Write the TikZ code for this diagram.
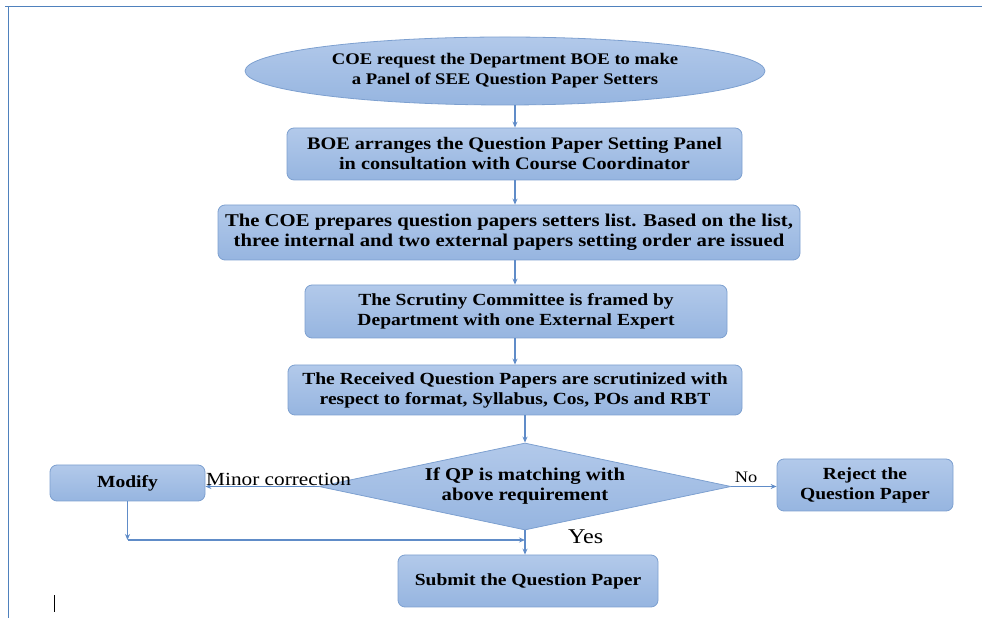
\documentclass[tikz,border=0pt]{standalone}
\usepackage{fontspec}
\setmainfont{Liberation Serif}[FakeStretch=1.15]
\usetikzlibrary{shapes.geometric,arrows.meta}
\definecolor{boxtop}{RGB}{178,201,234}
\definecolor{boxbottom}{RGB}{150,181,224}
\definecolor{boxedge}{RGB}{125,160,208}
\definecolor{linkblue}{RGB}{96,140,200}
\definecolor{frameblue}{RGB}{79,129,189}
\tikzset{
  x=1pt,y=1pt,
  every node/.style={font=\fontsize{17}{20}\selectfont\bfseries, align=center, inner sep=0pt},
  textsize/.style={font=\fontsize{#1}{20}\selectfont\bfseries},
  stepbox/.style={draw=boxedge, line width=0.8pt, top color=boxtop, bottom color=boxbottom, rounded corners=7pt},
  startshape/.style={ellipse, draw=boxedge, line width=0.8pt, top color=boxtop, bottom color=boxbottom},
  decision/.style={diamond, aspect=4.7, draw=boxedge, line width=0.8pt, top color=boxtop, bottom color=boxbottom},
  link/.style={draw=linkblue, line width=1.1pt, -{Stealth[length=6pt,width=5pt]}},
  lbl/.style={font=\fontsize{18.5}{20}\selectfont\mdseries},
}
\begin{document}
\begin{tikzpicture}
\useasboundingbox (0,0) rectangle (982,618);
% page frame
\draw[frameblue, line width=1pt] (5,611) -- (982,611);
\draw[frameblue, line width=1pt] (8,611) -- (8,0);

% flow nodes
\node[startshape, textsize=16.2, minimum width=520, minimum height=68] (start) at (505,547)
  {COE request the Department BOE to make\\a Panel of SEE Question Paper Setters};
\node[stepbox, textsize=17.6, minimum width=455, minimum height=52] (panel) at (514.5,464)
  {BOE arranges the Question Paper Setting Panel\\in consultation with Course Coordinator};
\node[stepbox, textsize=18, minimum width=582, minimum height=55] (list) at (509,385.5)
  {The COE prepares question papers setters list. Based on the list,\\three internal and two external papers setting order are issued};
\node[stepbox, minimum width=422, minimum height=53] (scrutiny) at (516,306.5)
  {The Scrutiny Committee is framed by\\Department with one External Expert};
\node[stepbox, minimum width=454, minimum height=50] (received) at (515,228)
  {The Received Question Papers are scrutinized with\\respect to format, Syllabus, Cos, POs and RBT};
\node[decision, textsize=18, minimum width=412, minimum height=87] (check) at (525,131.5)
  {If QP is matching with\\above requirement};
\node[stepbox, minimum width=155, minimum height=36] (modify) at (127.5,135) {Modify};
\node[stepbox, minimum width=176, minimum height=52] (reject) at (865,133)
  {Reject the\\Question Paper};
\node[stepbox, minimum width=260, minimum height=52] (submit) at (528,37)
  {Submit the Question Paper};

% axes of the main column
\coordinate (col) at (515,0);
\coordinate (col2) at (525,0);
\coordinate (join) at (127.5,78);

% connectors
\draw[link] (start.south -| col) -- (panel.north -| col);
\draw[link] (panel.south -| col) -- (list.north -| col);
\draw[link] (list.south -| col) -- (scrutiny.north -| col);
\draw[link] (scrutiny.south -| col) -- (received.north -| col);
\draw[link] (received.south -| col2) -- (check.north);
\draw[link] (check.west) -- (check.west -| modify.east);
\draw[link] (check.east) -- (check.east -| reject.west);
\draw[link] (check.south) -- (submit.north -| col2);
\draw[link] (modify.south) -- (join);
\draw[link] (join) -- (join -| check.south);

% labels
\node[lbl, anchor=south west] (minor) at (206,132) {Minor correction};
\node[lbl, font=\fontsize{16}{19}\selectfont\mdseries, anchor=south] (no) at (746,135) {No};
\node[lbl, font=\fontsize{21}{24}\selectfont\mdseries, anchor=west] (yes) at (568,81) {Yes};

% text cursor
\draw[black, line width=1pt] (54,6) -- (54,23);
\end{tikzpicture}
\end{document}
